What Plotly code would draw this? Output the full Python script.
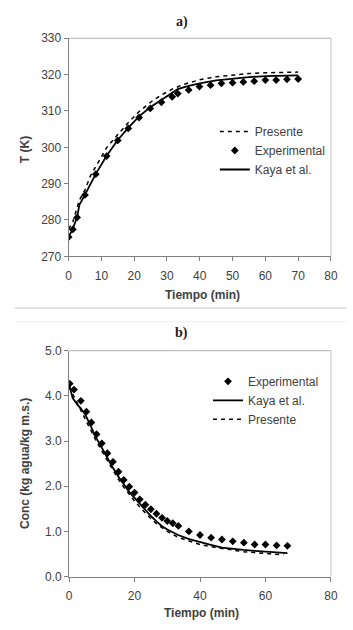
import plotly.graph_objects as go

# ---- Panel a) data ----
t_exp_a = [0, 1.3, 2.6, 5.0, 8.3, 11.6, 15.0, 18.2, 21.5, 24.9, 28.3, 31.6, 33.3, 36.6, 39.9,
           43.3, 46.6, 50.0, 53.3, 56.6, 60.0, 63.3, 66.6, 70.0]
T_exp_a = [275.3, 277.4, 280.7, 286.9, 292.6, 297.6, 301.9, 305.2, 308.2, 310.7, 312.4, 313.9,
           314.8, 315.8, 316.7, 317.1, 317.6, 317.8, 318.0, 318.2, 318.5, 318.5, 318.7, 318.8]
t_kaya_a = [0, 1.3, 2.6, 3.3, 5, 8.3, 11.6, 15, 18.3, 21.6, 25, 28.3, 31.6, 33.3, 36.6, 40,
            45, 50, 55, 60, 65, 70]
T_kaya_a = [275.3, 277.6, 280.8, 284.2, 287.0, 292.7, 297.7, 302.0, 305.5, 308.6, 311.1, 313.1,
            314.9, 316.0, 316.9, 317.6, 318.4, 318.9, 319.3, 319.6, 319.7, 319.8]
t_pres_a = [0, 1.3, 3.3, 5, 6.7, 8.3, 10, 11.6, 15, 18.3, 21.6, 25, 28.3, 31.6, 35, 40, 45,
            50, 55, 60, 65, 70]
T_pres_a = [277.5, 279.5, 285.5, 288.3, 292.2, 294.7, 297.4, 299.9, 303.5, 306.9, 309.9, 312.4,
            314.4, 316.0, 317.3, 318.6, 319.4, 319.9, 320.3, 320.5, 320.6, 320.7]

# ---- Panel b) data ----
t_exp_b = [0.2, 1.5, 3.6, 5.3, 6.8, 8.4, 10.0, 11.7, 13.4, 15.1, 16.7, 18.4, 20.0, 21.6, 23.3,
           25.0, 26.7, 28.4, 30.0, 31.7, 33.4, 36.6, 40.0, 43.4, 46.7, 50.0, 53.4, 56.7, 60.0,
           63.4, 66.7]
C_exp_b = [4.27, 4.14, 3.89, 3.65, 3.41, 3.15, 2.95, 2.73, 2.54, 2.32, 2.14, 1.99, 1.86, 1.71,
           1.59, 1.49, 1.39, 1.30, 1.23, 1.18, 1.12, 1.00, 0.92, 0.86, 0.82, 0.78, 0.75, 0.71,
           0.71, 0.69, 0.68]
t_kaya_b = [0, 1.1, 2.6, 3.5, 5, 6.7, 8.3, 10, 11.7, 13.3, 15, 16.7, 18.3, 20, 21.7, 23.3, 25,
            26.7, 28.3, 30, 33.3, 36.7, 40, 43.3, 46.7, 50, 53.3, 56.7, 60, 63.3, 66.7]
C_kaya_b = [4.25, 3.95, 3.80, 3.73, 3.58, 3.32, 3.07, 2.85, 2.62, 2.42, 2.22, 2.05, 1.88, 1.74,
            1.60, 1.46, 1.34, 1.22, 1.12, 1.04, 0.92, 0.83, 0.76, 0.70, 0.64, 0.61, 0.59, 0.57,
            0.55, 0.53, 0.52]
t_pres_b = [0, 1.7, 3.3, 5, 6.7, 8.3, 10, 11.7, 13.3, 15, 16.7, 18.3, 20, 21.7, 23.3, 25, 26.7,
            28.3, 30, 33.3, 36.7, 40, 43.3, 46.7, 50, 53.3, 56.7, 60, 63.3, 65.5]
C_pres_b = [4.2, 3.95, 3.72, 3.48, 3.25, 3.0, 2.78, 2.56, 2.36, 2.16, 1.98, 1.82, 1.67, 1.53,
            1.40, 1.28, 1.17, 1.08, 1.00, 0.87, 0.78, 0.71, 0.66, 0.62, 0.58, 0.55, 0.53, 0.51,
            0.49, 0.48]

W, H = 353, 630
FONT = "Liberation Sans, Arial, sans-serif"
GREY = "#404040"
DASH = "4px,4px"

def px_x(p):
    return p / W

def px_y(p):
    return 1 - p / H

fig = go.Figure()

# panel a traces (legend order: Presente, Experimental, Kaya)
fig.add_trace(go.Scatter(x=t_pres_a, y=T_pres_a, mode="lines", name="Presente",
                         line=dict(color="black", width=1.5, dash=DASH),
                         xaxis="x", yaxis="y", legend="legend", legendgroup="a1"))
fig.add_trace(go.Scatter(x=t_exp_a, y=T_exp_a, mode="markers", name="Experimental",
                         marker=dict(symbol="diamond", size=6, color="black"),
                         xaxis="x", yaxis="y", legend="legend", legendgroup="a2"))
fig.add_trace(go.Scatter(x=t_kaya_a, y=T_kaya_a, mode="lines", name="Kaya et al.",
                         line=dict(color="black", width=1.8),
                         xaxis="x", yaxis="y", legend="legend", legendgroup="a3"))

# panel b traces (legend order: Experimental, Kaya, Presente)
fig.add_trace(go.Scatter(x=t_exp_b, y=C_exp_b, mode="markers", name="Experimental",
                         marker=dict(symbol="diamond", size=6, color="black"),
                         xaxis="x2", yaxis="y2", legend="legend2", legendgroup="b1"))
fig.add_trace(go.Scatter(x=t_kaya_b, y=C_kaya_b, mode="lines", name="Kaya et al.",
                         line=dict(color="black", width=1.8),
                         xaxis="x2", yaxis="y2", legend="legend2", legendgroup="b2"))
fig.add_trace(go.Scatter(x=t_pres_b, y=C_pres_b, mode="lines", name="Presente",
                         line=dict(color="black", width=1.5, dash=DASH),
                         xaxis="x2", yaxis="y2", legend="legend2", legendgroup="b3"))

axis_common = dict(showline=True, linecolor="#808080", linewidth=1, ticks="outside",
                   ticklen=4, tickcolor="#808080", showgrid=False, zeroline=False,
                   tickfont=dict(family=FONT, size=12, color=GREY))

fig.update_layout(
    width=W, height=H, margin=dict(l=0, r=0, t=0, b=0), autosize=False,
    paper_bgcolor="white", plot_bgcolor="white",
    xaxis=dict(domain=[px_x(67.5), px_x(337.5)], range=[0, 80], dtick=10, anchor="y",
               ticklabelstandoff=4, **axis_common),
    yaxis=dict(domain=[px_y(255), px_y(32)], range=[270, 330], dtick=10, anchor="x",
               **axis_common),
    xaxis2=dict(domain=[px_x(68), px_x(337.5)], range=[0, 80], dtick=20, anchor="y2",
                ticklabelstandoff=4, **axis_common),
    yaxis2=dict(domain=[px_y(582.5), px_y(351.5)], range=[0, 5], dtick=1, tickformat=".1f",
                anchor="x2", **axis_common),
    legend=dict(x=px_x(218), y=px_y(112.5), xanchor="left", yanchor="top",
                font=dict(family=FONT, size=12, color=GREY), bgcolor="rgba(0,0,0,0)",
                tracegroupgap=1, traceorder="normal"),
    legend2=dict(x=px_x(211), y=px_y(368), xanchor="left", yanchor="top",
                 font=dict(family=FONT, size=12, color=GREY), bgcolor="rgba(0,0,0,0)",
                 tracegroupgap=0, traceorder="normal"),
    showlegend=True,
)

# light frame on top/right of each plot, separator lines
shapes = []
for xr, yr in (("x domain", "y domain"), ("x2 domain", "y2 domain")):
    shapes.append(dict(type="line", xref=xr, yref=yr, x0=0, x1=1, y0=1, y1=1,
                       line=dict(color="#b0b0b0", width=1)))
    shapes.append(dict(type="line", xref=xr, yref=yr, x0=1, x1=1, y0=0, y1=1,
                       line=dict(color="#c0c0c0", width=1)))
shapes.append(dict(type="line", xref="paper", yref="paper", x0=px_x(12), x1=1,
                   y0=px_y(308), y1=px_y(308), line=dict(color="#c8c8c8", width=1)))
shapes.append(dict(type="line", xref="paper", yref="paper", x0=px_x(12), x1=1,
                   y0=px_y(322), y1=px_y(322), line=dict(color="#ececec", width=1)))
fig.update_layout(shapes=shapes)

def note(text, x, y, size=12, family=FONT, color=GREY, angle=0):
    return dict(text=text, x=px_x(x), y=px_y(y), xref="paper", yref="paper",
                xanchor="center", yanchor="middle", showarrow=False, textangle=angle,
                font=dict(family=family, size=size, color=color))

SERIF = "Liberation Serif, Times New Roman, serif"
ann = [
    note("<b>a)</b>", 184, 15, size=14, family=SERIF, color="#222222"),
    note("<b>b)</b>", 184, 333, size=14, family=SERIF, color="#222222"),
    note("<b>Tiempo (min)</b>", 205, 295),
    note("<b>Tiempo (min)</b>", 204, 620),
    note("<b>T (K)</b>", 22, 146, angle=-90),
    note("<b>Conc (kg agua/kg m.s.)</b>", 22, 467, angle=-90),
]
fig.update_layout(annotations=ann)

fig.write_html("out.html", config={"displayModeBar": False},
               post_script="document.body.style.margin='0px';")
